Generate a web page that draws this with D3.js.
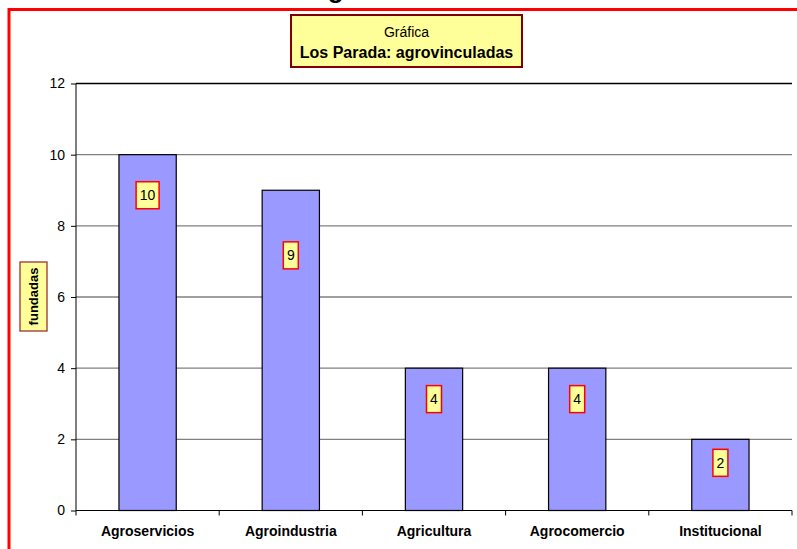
<!DOCTYPE html>
<html lang="es">
<head>
<meta charset="utf-8">
<title>Los Parada: agrovinculadas</title>
<script type="text/javascript" src="https://cdn.jsdelivr.net/npm/d3@7"></script>
<style type="text/css">
  * { margin: 0; padding: 0; }
  body { background: white; font-family: "Liberation Sans", Arial, sans-serif; }
  svg { display: block; }
  .grid line { stroke: #808080; stroke-width: 1.3; }
  .axis path, .axis line { stroke: black; }
  .axis text { font-family: "Liberation Sans", Arial, sans-serif; fill: black; }
</style>
</head>
<body>
<div id="chart"></div>
<script type="text/javascript">

// data
var categories = ["Agroservicios", "Agroindustria", "Agricultura", "Agrocomercio", "Institucional"];
var values = [10, 9, 4, 4, 2];
// where each value label sits, in y units (moved by hand in the original)
var labelAt = [8.86, 7.17, 3.13, 3.13, 1.34];
var yTicks = [0, 2, 4, 6, 8, 10, 12];

var w = 797, h = 549;
var plotLeft = 76, plotRight = 792, plotTop = 83.5, plotBottom = 510.5;

var svg = d3.select("#chart").append("svg")
    .attr("width", w)
    .attr("height", h);

// big title, mostly cut off above the frame
svg.append("text")
    .attr("x", 309)
    .attr("y", -2)
    .attr("font-size", 26)
    .attr("font-weight", "bold")
    .text("Agrovinculadas");

var x = d3.scaleBand()
    .domain(categories)
    .range([plotLeft, plotRight])
    .paddingInner(0.6)
    .paddingOuter(0.3);

var y = d3.scaleLinear()
    .domain([0, 12])
    .range([plotBottom, plotTop]);

// gridlines
svg.append("g")
    .attr("class", "grid")
    .selectAll("line")
    .data(yTicks.filter(function(d) { return d > 0; }))
    .enter().append("line")
    .attr("x1", plotLeft)
    .attr("x2", plotRight)
    .attr("y1", function(d) { return y(d); })
    .attr("y2", function(d) { return y(d); })
    .style("stroke", function(d) { return d == 12 ? "#000" : "#808080"; });

// y axis
var yAxis = d3.axisLeft(y)
    .tickValues(yTicks)
    .tickSize(5)
    .tickPadding(6);

svg.append("g")
    .attr("class", "axis")
    .attr("transform", "translate(" + plotLeft + ",0)")
    .call(yAxis)
    .call(function(g) { g.select(".domain").attr("d", "M0," + y(12) + "V" + y(0)); })
    .selectAll("text")
    .attr("font-size", 14);

// bars
svg.append("g")
    .selectAll("rect")
    .data(values)
    .enter().append("rect")
    .attr("x", function(d, i) { return x(categories[i]); })
    .attr("y", function(d) { return y(d); })
    .attr("width", x.bandwidth())
    .attr("height", function(d) { return y(0) - y(d); })
    .attr("fill", "#9999ff")
    .attr("stroke", "#000")
    .attr("stroke-width", 1.2);

// x axis line with ticks between categories
var step = x.step();
svg.append("line")
    .attr("x1", plotLeft).attr("x2", plotRight)
    .attr("y1", y(0)).attr("y2", y(0))
    .attr("stroke", "#000").attr("stroke-width", 1.2);

svg.append("g")
    .selectAll("line")
    .data(d3.range(categories.length + 1))
    .enter().append("line")
    .attr("x1", function(k) { return plotLeft + k * step; })
    .attr("x2", function(k) { return plotLeft + k * step; })
    .attr("y1", y(0))
    .attr("y2", y(0) + 5)
    .attr("stroke", "#000");

svg.append("g")
    .selectAll("text")
    .data(categories)
    .enter().append("text")
    .attr("x", function(d) { return x(d) + x.bandwidth() / 2; })
    .attr("y", 536)
    .attr("text-anchor", "middle")
    .attr("font-size", 14)
    .attr("font-weight", "bold")
    .text(function(d) { return d; });

// value labels
var lab = svg.append("g")
    .selectAll("g")
    .data(values)
    .enter().append("g")
    .attr("transform", function(d, i) {
        return "translate(" + (x(categories[i]) + x.bandwidth() / 2) + "," + y(labelAt[i]) + ")";
    });

lab.append("rect")
    .attr("x", function(d) { return d >= 10 ? -11.5 : -7.5; })
    .attr("y", -13.5)
    .attr("width", function(d) { return d >= 10 ? 23 : 15; })
    .attr("height", 27)
    .attr("fill", "#ffff99")
    .attr("stroke", "#ff0000")
    .attr("stroke-width", 1.5);

lab.append("text")
    .attr("text-anchor", "middle")
    .attr("dy", "0.36em")
    .attr("font-size", 14)
    .text(function(d) { return d; });

// y axis title
var yt = svg.append("g")
    .attr("transform", "translate(33.5,296.5) rotate(-90)");
yt.append("rect")
    .attr("x", -34.5)
    .attr("y", -13.5)
    .attr("width", 69)
    .attr("height", 27)
    .attr("fill", "#ffff99")
    .attr("stroke", "#993333")
    .attr("stroke-width", 1.3);
yt.append("text")
    .attr("text-anchor", "middle")
    .attr("dy", "0.36em")
    .attr("font-size", 13)
    .attr("font-weight", "bold")
    .text("fundadas");

// title box
var tb = svg.append("g");
tb.append("rect")
    .attr("x", 291)
    .attr("y", 15)
    .attr("width", 231)
    .attr("height", 52)
    .attr("fill", "#ffff99")
    .attr("stroke", "#800000")
    .attr("stroke-width", 2);
tb.append("text")
    .attr("x", 406.5)
    .attr("y", 37)
    .attr("text-anchor", "middle")
    .attr("font-size", 14)
    .text("Gráfica");
tb.append("text")
    .attr("x", 406.5)
    .attr("y", 58)
    .attr("text-anchor", "middle")
    .attr("font-size", 16)
    .attr("font-weight", "bold")
    .text("Los Parada: agrovinculadas");

// red frame, runs off the right and bottom edges
svg.append("rect")
    .attr("x", 9)
    .attr("y", 9.5)
    .attr("width", 820)
    .attr("height", 580)
    .attr("fill", "none")
    .attr("stroke", "#ff0000")
    .attr("stroke-width", 3);

</script>
</body>
</html>
